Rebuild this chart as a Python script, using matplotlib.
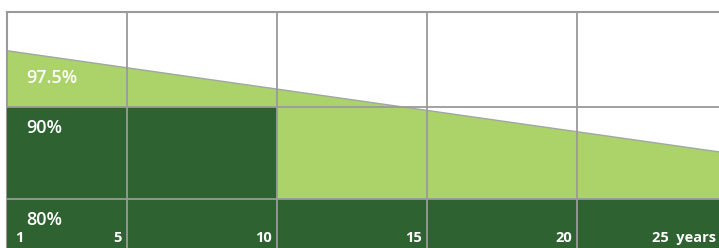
import matplotlib
matplotlib.use("Agg")
import matplotlib.pyplot as plt
from matplotlib.transforms import offset_copy

# ---- data ----
line_years = [1, 25]
line_values = [96.1, 85.0]
tier_levels = [90, 80]
tier_end_years = [10, 25]
tier_labels = ["90%", "80%"]
first_year_label = "97.5%"
tick_years = [5, 10, 15, 20, 25]
tick_labels = ["5", "10", "15", "20", "25  years"]
start_year = 1

LIGHT = "#acd36a"
DARK = "#2e6230"
GRID = "#9a9a9a"

plt.rcParams['font.family'] = ['Open Sans', 'DejaVu Sans']

fig = plt.figure(figsize=(7.19, 2.48), dpi=100)
ax = fig.add_axes([7/719, 0, 712/719, 236/248])
ax.set_xlim(1, 24.73)
ax.set_ylim(74.7, 100.3)

# light green area under the declining line
ax.fill_between(line_years, line_values, 74.7, color=LIGHT, lw=0, zorder=1)
ax.plot(line_years, line_values, color="#a0a8a0", lw=1, zorder=2)

# dark tiers
for lvl, end in sorted(zip(tier_levels, tier_end_years)):
    ax.fill_between([start_year, end], [lvl, lvl], 74.7, color=DARK, lw=0, zorder=3)

# gridlines
for y in tier_levels:
    ax.axhline(y, color=GRID, lw=1.3, zorder=4)
for x in tick_years[:-1]:
    ax.axvline(x, color=GRID, lw=1.3, zorder=4)

for s in ["right", "bottom"]:
    ax.spines[s].set_visible(False)
for s in ["left", "top"]:
    ax.spines[s].set_color(GRID)
    ax.spines[s].set_linewidth(1.5)
ax.set_xticks([])
ax.set_yticks([])

PCT = dict(color="white", fontsize=13, fontweight="semibold", va="center", ha="left", zorder=5)
YR = dict(color="white", fontsize=10.5, fontweight="bold", va="center", zorder=5)

# percent labels
t = offset_copy(ax.transData, fig=fig, x=19/100*72, y=29/100*72, units='points')
ax.text(start_year, tier_levels[0], first_year_label, transform=t, **PCT)
for lvl, lab in zip(tier_levels, tier_labels):
    t = offset_copy(ax.transData, fig=fig, x=19/100*72, y=-21/100*72, units='points')
    ax.text(start_year, lvl, lab, transform=t, **PCT)

# year labels
ybot = 74.7
t = offset_copy(ax.transData, fig=fig, x=8/100*72, y=10/100*72, units='points')
ax.text(start_year, ybot, str(start_year), transform=t, ha="left", **YR)
for yr, lab in zip(tick_years, tick_labels):
    dx = -11 if yr == tick_years[-1] else -5
    t = offset_copy(ax.transData, fig=fig, x=dx/100*72, y=10/100*72, units='points')
    ax.text(yr, ybot, lab, transform=t, ha="right", **YR)

fig.savefig("out.png", dpi=100)
